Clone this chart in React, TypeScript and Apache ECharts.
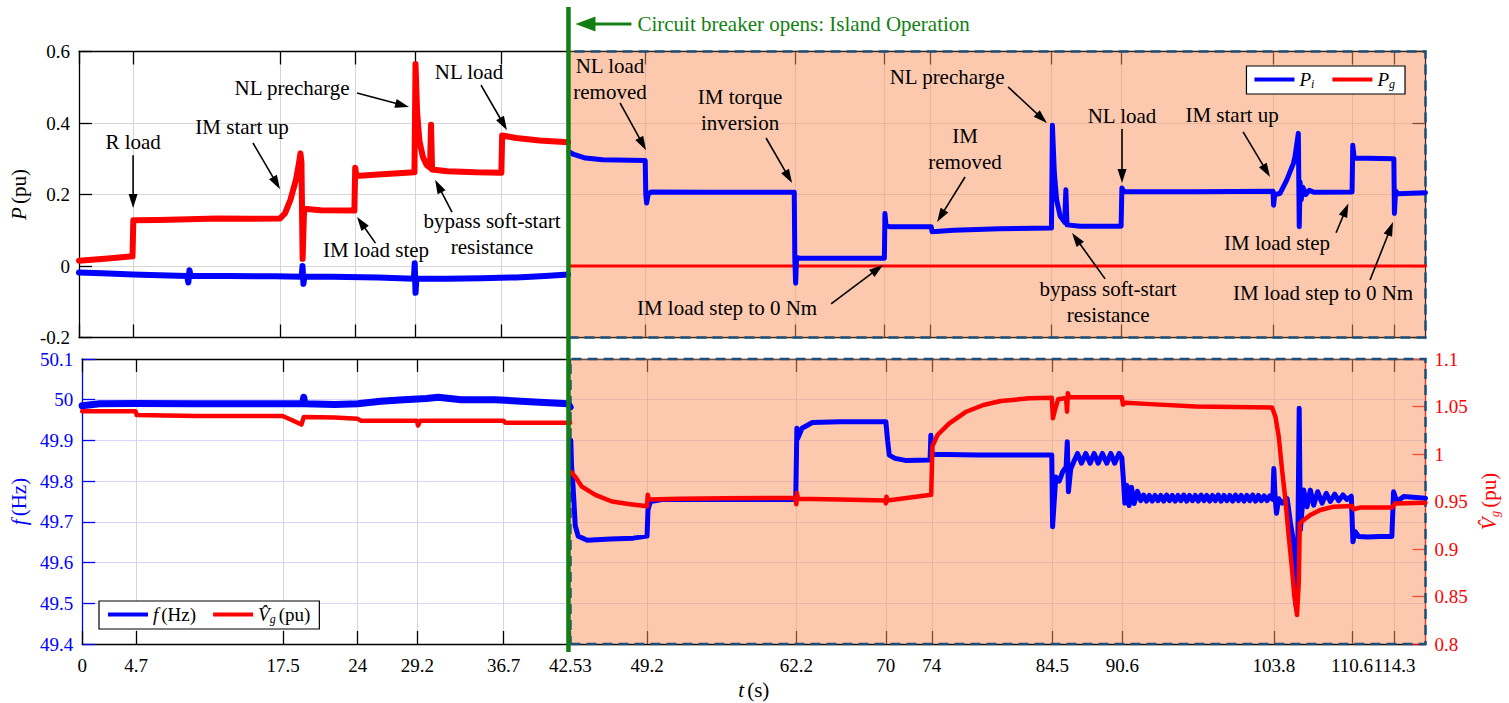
import React, { useEffect, useRef } from "react";
import * as echarts from "echarts";

// ---------------- data ----------------
const X_TICKS = [0, 4.7, 17.5, 24, 29.2, 36.7, 42.53, 49.2, 62.2, 70, 74, 84.5, 90.6, 103.8, 110.6, 114.3];
const T_MAX = 117;
const ISLAND_T = 42.53;

// inverter active power P_i (pu)
const P_I_GRID = [
  [0, -0.018], [2, -0.02], [4.7, -0.024], [7, -0.026], [9.4, -0.028], [9.5, -0.046], [9.6, -0.012], [9.7, -0.028],
  [13, -0.028], [17, -0.029], [19.35, -0.03], [19.42, 0.0], [19.5, -0.05], [19.58, -0.03], [22, -0.03], [26, -0.032],
  [29.1, -0.036], [29.17, 0.008], [29.24, -0.075], [29.32, -0.036], [32, -0.036], [35, -0.034], [38, -0.032],
  [40.5, -0.028], [42.5, -0.024],
];
const P_I_ISLAND = [
  [42.56, 0.32], [43, 0.312], [44, 0.302], [45.5, 0.297], [49.2, 0.295], [49.25, 0.2], [49.32, 0.176], [49.45, 0.2],
  [49.7, 0.207], [55, 0.206], [62.15, 0.206], [62.2, 0.02], [62.27, -0.048], [62.35, 0.024], [62.6, 0.022], [66, 0.022],
  [69.98, 0.022], [70.03, 0.147], [70.12, 0.115], [70.4, 0.11], [74.05, 0.11], [74.12, 0.096], [76, 0.1], [80, 0.104],
  [84.5, 0.106], [84.58, 0.394], [84.75, 0.26], [84.95, 0.185], [85.25, 0.14], [85.65, 0.122], [85.75, 0.213],
  [85.85, 0.115], [87, 0.111], [90.55, 0.111], [90.62, 0.218], [90.8, 0.208], [97, 0.208], [103.75, 0.209],
  [103.8, 0.17], [103.9, 0.2], [104.36, 0.203], [104.94, 0.24], [105.52, 0.287], [105.66, 0.306], [105.95, 0.371],
  [106.03, 0.11], [106.1, 0.235], [106.2, 0.185], [106.35, 0.22], [106.6, 0.2], [106.9, 0.212], [107.3, 0.206],
  [110.62, 0.207], [110.68, 0.338], [110.8, 0.302], [114.25, 0.3], [114.3, 0.147], [114.4, 0.21], [114.6, 0.202],
  [117, 0.205],
];

// grid active power P_g (pu)
const P_G_GRID = [
  [0, 0.015], [2.5, 0.021], [4.65, 0.027], [4.72, 0.128], [7, 0.129], [9.5, 0.131], [12, 0.133], [15, 0.132],
  [17.47, 0.133], [17.9, 0.147], [18.37, 0.185], [18.85, 0.241], [19.1, 0.285], [19.24, 0.315], [19.33, 0.29],
  [19.43, 0.02], [19.56, 0.16], [21, 0.156], [23.93, 0.155], [24.0, 0.275], [24.1, 0.252], [26, 0.256], [29.15, 0.262],
  [29.24, 0.565], [29.38, 0.43], [29.58, 0.35], [29.88, 0.305], [30.2, 0.283], [30.5, 0.275], [30.59, 0.395],
  [30.68, 0.27], [32, 0.265], [34.5, 0.262], [36.7, 0.261], [36.77, 0.365], [38, 0.358], [40, 0.351], [42.5, 0.346],
];
const P_G_ISLAND = [[42.56, 0.0], [60, 0.0], [90, 0.0], [117, 0.0]];

// frequency f (Hz)
const F_GRID = [
  [0, 49.985], [1.5, 49.99], [4.7, 49.991], [9.6, 49.99], [14, 49.99], [19.2, 49.99], [19.3, 50.006], [19.4, 49.99],
  [22, 49.988], [24, 49.99], [26, 49.996], [28, 50.0], [30, 50.003], [31, 50.006], [33, 50.0], [36, 50.0],
  [39, 49.995], [42.3, 49.99], [42.5, 49.982],
];
const F_ISLAND = [
  [42.56, 49.9], [42.62, 49.84], [42.75, 49.79], [42.95, 49.69], [43.2, 49.665], [44, 49.655], [46, 49.658],
  [48, 49.66], [49.2, 49.665], [49.28, 49.73], [49.5, 49.75], [50.5, 49.755], [56, 49.755], [62.15, 49.755],
  [62.25, 49.93], [62.32, 49.905], [62.7, 49.93], [63.6, 49.944], [66, 49.946], [70.0, 49.946], [70.15, 49.9],
  [70.3, 49.864], [70.8, 49.856], [71.7, 49.851], [73.85, 49.852], [73.92, 49.913], [74.02, 49.866], [78, 49.864],
  [84.45, 49.864], [84.52, 49.688], [84.8, 49.81], [85.1, 49.8], [85.4, 49.823], [85.7, 49.835], [85.8, 49.897],
  [85.9, 49.774], [86.1, 49.83], [86.4, 49.85], [86.69, 49.868], [87.04, 49.844], [87.41, 49.868], [87.79, 49.844],
  [88.14, 49.868], [88.49, 49.844], [88.86, 49.868], [89.24, 49.844], [89.59, 49.868], [89.93, 49.844],
  [90.31, 49.868], [90.55, 49.858], [90.69, 49.803], [90.81, 49.746], [90.98, 49.79], [91.18, 49.74], [91.39, 49.785],
  [91.62, 49.745], [91.91, 49.775], [92.2, 49.752], [92.45, 49.766], [92.7, 49.751], [92.95, 49.765], [93.2, 49.751],
  [93.45, 49.765], [93.7, 49.752], [93.95, 49.765], [94.2, 49.751], [94.45, 49.766], [94.7, 49.752], [94.95, 49.765],
  [95.2, 49.751], [95.45, 49.765], [95.7, 49.752], [95.95, 49.766], [96.2, 49.751], [96.45, 49.765], [96.7, 49.752],
  [96.95, 49.765], [97.2, 49.751], [97.45, 49.766], [97.7, 49.752], [97.95, 49.765], [98.2, 49.751], [98.45, 49.765],
  [98.7, 49.752], [98.95, 49.766], [99.2, 49.751], [99.45, 49.765], [99.7, 49.752], [99.95, 49.765], [100.2, 49.751],
  [100.45, 49.766], [100.7, 49.752], [100.95, 49.765], [101.2, 49.751], [101.45, 49.765], [101.7, 49.752],
  [101.95, 49.766], [102.2, 49.751], [102.45, 49.765], [102.7, 49.752], [102.95, 49.764], [103.2, 49.752],
  [103.45, 49.764], [103.7, 49.755], [103.79, 49.831], [103.9, 49.76], [104.02, 49.721], [104.22, 49.757],
  [104.51, 49.746], [104.95, 49.757], [105.24, 49.697], [105.52, 49.648], [105.72, 49.495], [105.87, 49.62],
  [106.0, 49.979], [106.1, 49.68], [106.39, 49.778], [106.68, 49.737], [106.97, 49.778], [107.26, 49.741],
  [107.61, 49.774], [107.99, 49.746], [108.36, 49.77], [108.71, 49.75], [109.09, 49.768], [109.44, 49.752],
  [109.81, 49.766], [110.16, 49.755], [110.54, 49.763], [110.68, 49.651], [110.88, 49.676], [111.17, 49.664],
  [112, 49.663], [113, 49.664], [114.07, 49.664], [114.22, 49.774], [114.5, 49.75], [115.1, 49.762], [117, 49.758],
];

// grid voltage magnitude V_g (pu)
const V_GRID = [
  [0, 1.045], [4.65, 1.045], [4.75, 1.041], [10, 1.04], [17.45, 1.04], [18.2, 1.036], [19.1, 1.031], [19.3, 1.039],
  [22, 1.0385], [24, 1.037], [24.3, 1.035], [29.15, 1.035], [29.25, 1.03], [29.45, 1.035], [36.7, 1.035],
  [36.85, 1.033], [42.5, 1.033],
];
const V_ISLAND = [
  [42.6, 0.981], [43.0, 0.975], [43.53, 0.9656], [44.69, 0.957], [46.14, 0.95], [47.59, 0.9474], [49.03, 0.9453],
  [49.2, 0.945], [49.26, 0.957], [49.35, 0.952], [52, 0.953], [56, 0.9535], [62.15, 0.954], [62.2, 0.947],
  [62.25, 0.959], [62.35, 0.953], [66, 0.952], [69.95, 0.951], [70.0, 0.948], [70.05, 0.955], [70.15, 0.951],
  [73.95, 0.957], [74.05, 1.008], [74.5, 1.02], [75.5, 1.032], [77, 1.0445], [78.5, 1.0516], [80, 1.0558],
  [82.5, 1.0586], [84.45, 1.0593], [84.55, 1.0376], [84.7, 1.045], [85.0, 1.0576], [85.7, 1.059], [85.78, 1.0445],
  [85.85, 1.064], [85.95, 1.0597], [90.55, 1.0597], [90.65, 1.052], [90.9, 1.054], [93, 1.0525], [97, 1.05],
  [103.64, 1.049], [103.93, 1.0393], [104.22, 1.018], [104.51, 0.983], [104.8, 0.9516], [105.09, 0.913],
  [105.38, 0.878], [105.58, 0.85], [105.81, 0.8305], [105.96, 0.864], [106.05, 0.927], [106.39, 0.9305],
  [106.97, 0.9358], [107.84, 0.941], [109.0, 0.9446], [110.6, 0.9453], [110.74, 0.9418], [111.3, 0.9436],
  [114.07, 0.9436], [114.36, 0.948], [117, 0.9486],
];

// annotations of the P panel, in data coordinates (t, P)
const NOTES = [
  { text: "R load", at: [4.7, 0.347], from: [4.7, 0.31], to: [4.7, 0.162] },
  { text: "IM start up", at: [14.16, 0.389], from: [15.12, 0.344], to: [17.47, 0.215] },
  { text: "NL precharge", at: [18.51, 0.498], from: [24.16, 0.484], to: [28.68, 0.445] },
  { text: "NL load", at: [33.89, 0.543], from: [34.93, 0.506], to: [37.19, 0.38] },
  { text: "IM load step", at: [25.81, 0.045], from: [25.76, 0.064], to: [24.16, 0.137] },
  { text: "bypass soft-start\nresistance", at: [35.89, 0.089], from: [32.41, 0.151], to: [30.94, 0.241] },
  { text: "NL load\nremoved", at: [46.14, 0.523], from: [47.01, 0.456], to: [49.27, 0.324] },
  { text: "IM torque\ninversion", at: [57.44, 0.436], from: [59.7, 0.358], to: [61.96, 0.232] },
  { text: "IM load step to 0 Nm", at: [56.31, -0.117], from: [65.35, -0.106], to: [69.86, 0.003] },
  { text: "NL precharge", at: [75.43, 0.529], from: [80.73, 0.501], to: [84.11, 0.4] },
  { text: "IM\nremoved", at: [76.99, 0.327], from: [76.99, 0.249], to: [74.56, 0.123] },
  { text: "NL load", at: [90.63, 0.42], from: [90.63, 0.383], to: [90.63, 0.232] },
  { text: "IM start up", at: [100.19, 0.422], from: [101.15, 0.375], to: [103.49, 0.249] },
  { text: "IM load step", at: [104.1, 0.064], from: [109.23, 0.093], to: [110.3, 0.175] },
  { text: "bypass soft-start\nresistance", at: [89.42, -0.101], from: [89.16, -0.036], to: [86.29, 0.092] },
  { text: "IM load step to 0 Nm", at: [108.1, -0.075], from: [112.18, -0.039], to: [114.18, 0.123] },
];

const ISLAND_LABEL = "Circuit breaker opens: Island Operation";

// ---------------- styling ----------------
const FONT = "Liberation Serif";
const BLUE = "#0000ff";
const RED = "#ff0000";
const GREEN = "#137f13";
const GRID_GREY = "#d6d6d6";

function richFor(color: string) {
  return {
    it: { fontFamily: FONT, fontStyle: "italic", fontSize: 21, color },
    rm: { fontFamily: FONT, fontSize: 21, color },
    sub: { fontFamily: FONT, fontStyle: "italic", fontSize: 13, color, padding: [10, 0, 0, 0] },
  };
}
function legendRich() {
  return {
    it: { fontFamily: FONT, fontStyle: "italic", fontSize: 19, color: "#000" },
    rm: { fontFamily: FONT, fontSize: 19, color: "#000" },
    sub: { fontFamily: FONT, fontStyle: "italic", fontSize: 12, color: "#000", padding: [9, 0, 0, 0] },
  };
}
function tickLabel(color: string, margin: number) {
  return {
    show: true,
    margin,
    formatter: (v: number) => "{n|" + String(v) + "}",
    rich: { n: { fontFamily: FONT, fontSize: 19, color } },
  };
}

function arrowEls(from: number[], to: number[], color: string, lw: number, headLen: number, headW: number) {
  const dx = to[0] - from[0];
  const dy = to[1] - from[1];
  const len = Math.hypot(dx, dy) || 1;
  const ux = dx / len;
  const uy = dy / len;
  const bx = to[0] - ux * headLen;
  const by = to[1] - uy * headLen;
  const nx = -uy;
  const ny = ux;
  return [
    {
      type: "line",
      silent: true,
      z: 60,
      shape: { x1: from[0], y1: from[1], x2: bx + ux * 2, y2: by + uy * 2 },
      style: { stroke: color, lineWidth: lw },
    },
    {
      type: "polygon",
      silent: true,
      z: 60,
      shape: {
        points: [
          [to[0], to[1]],
          [bx + (nx * headW) / 2, by + (ny * headW) / 2],
          [bx - (nx * headW) / 2, by - (ny * headW) / 2],
        ],
      },
      style: { fill: color },
    },
  ];
}

function richText(x: number, y: number, text: string, color: string, align: string) {
  return {
    type: "text",
    silent: true,
    z: 60,
    x,
    y,
    style: {
      text: "{a|" + text + "}",
      align,
      verticalAlign: "middle",
      fill: color,
      fontFamily: FONT,
      fontSize: 21,
      rich: { a: { fontFamily: FONT, fontSize: 21, fill: color } },
    },
  };
}

export default function App() {
  const ref = useRef<HTMLDivElement>(null);

  useEffect(() => {
    document.body.style.margin = "0";
    const el = ref.current;
    if (!el) return;
    const chart = echarts.init(el, null, { renderer: "svg" });

    const shade = {
      silent: true,
      label: { show: false },
      itemStyle: {
        color: "rgba(249,148,94,0.5)",
        borderColor: "#1f4e79",
        borderWidth: 2.5,
        borderType: [10, 6],
      },
      data: [[{ xAxis: ISLAND_T }, { xAxis: T_MAX }]],
    };

    const xBase = (gridIndex: number, position: string) => ({
      type: "value",
      gridIndex,
      position,
      min: 0,
      max: T_MAX,
      axisLine: { show: true, onZero: false, lineStyle: { color: "#000", width: 1.3 } },
      axisTick: { show: true, inside: true, length: 13, customValues: X_TICKS, lineStyle: { color: "#000", width: 1.3 } },
      axisLabel: { show: false, customValues: X_TICKS },
      splitLine: { show: false },
    });

    const yBase = (gridIndex: number, position: string, min: number, max: number, interval: number, color: string) => ({
      type: "value",
      gridIndex,
      position,
      min,
      max,
      interval,
      axisLine: { show: true, onZero: false, lineStyle: { color, width: 1.3 } },
      axisTick: { show: true, inside: true, length: 13, lineStyle: { color, width: 1.3 } },
      axisLabel: { show: false },
      splitLine: { show: false },
    });

    const line = (name: string, xi: number, yi: number, data: number[][], color: string, width: number, z: number, extra: any = {}) => ({
      name,
      type: "line",
      xAxisIndex: xi,
      yAxisIndex: yi,
      data,
      showSymbol: false,
      symbol: "none",
      silent: true,
      z,
      lineStyle: { color, width, join: "round", cap: "round" },
      itemStyle: { color },
      emphasis: { disabled: true },
      ...extra,
    });

    const option: any = {
      animation: false,
      backgroundColor: "#ffffff",
      grid: [
        { left: 79, right: 83.5, top: 51.5, height: 286, containLabel: false },
        { left: 79, right: 83.5, top: 359, height: 285, containLabel: false },
      ],
      xAxis: [
        { ...xBase(0, "bottom"), splitLine: { show: true, lineStyle: { color: GRID_GREY, width: 1 } } },
        xBase(0, "top"),
        {
          ...xBase(1, "bottom"),
          splitLine: { show: true, lineStyle: { color: GRID_GREY, width: 1 } },
          axisLabel: { ...tickLabel("#000", 12), customValues: X_TICKS },
          name: "{it|t} {rm|(s)}",
          nameLocation: "middle",
          nameGap: 35,
          nameTextStyle: { fontFamily: FONT, rich: richFor("#000") },
        },
        xBase(1, "top"),
      ],
      yAxis: [
        {
          ...yBase(0, "left", -0.2, 0.6, 0.2, "#000"),
          axisLabel: tickLabel("#000", 9),
          splitLine: { show: true, lineStyle: { color: GRID_GREY, width: 1 } },
          name: "{it|P} {rm|(pu)}",
          nameLocation: "middle",
          nameRotate: 90,
          nameGap: 48,
          nameTextStyle: { fontFamily: FONT, rich: richFor("#000") },
        },
        yBase(0, "right", -0.2, 0.6, 0.2, "#000"),
        {
          ...yBase(1, "left", 49.4, 50.1, 0.1, BLUE),
          axisLabel: tickLabel(BLUE, 9),
          splitLine: { show: true, lineStyle: { color: "rgba(70,70,255,0.22)", width: 1 } },
          name: "{it|f} {rm|(Hz)}",
          nameLocation: "middle",
          nameRotate: 90,
          nameGap: 48,
          nameTextStyle: { fontFamily: FONT, rich: richFor(BLUE) },
        },
        {
          ...yBase(1, "right", 0.8, 1.1, 0.05, RED),
          axisLabel: tickLabel(RED, 9),
          name: "{it|V\u0302}{sub|g} {rm|(pu)}",
          nameLocation: "middle",
          nameRotate: 90,
          nameGap: 52,
          nameTextStyle: { fontFamily: FONT, rich: richFor(RED) },
        },
      ],
      legend: [
        {
          data: ["P_i", "P_g"],
          right: 104,
          top: 66,
          orient: "horizontal",
          icon: "rect",
          itemWidth: 40,
          itemHeight: 4,
          itemGap: 18,
          padding: [4, 10, 4, 8],
          backgroundColor: "#ffffff",
          borderColor: "#000",
          borderWidth: 1.2,
          selectedMode: false,
          formatter: (n: string) => (n === "P_i" ? "{it|P}{sub|i}" : "{it|P}{sub|g}"),
          textStyle: { fontFamily: FONT, rich: legendRich() },
        },
        {
          data: ["f (Hz)", "V_g (pu)"],
          left: 99,
          top: 601,
          orient: "horizontal",
          icon: "rect",
          itemWidth: 40,
          itemHeight: 4,
          itemGap: 17,
          padding: [4, 9, 4, 9],
          backgroundColor: "#ffffff",
          borderColor: "#000",
          borderWidth: 1.2,
          selectedMode: false,
          formatter: (n: string) => (n === "f (Hz)" ? "{it|f} {rm|(Hz)}" : "{it|V\u0302}{sub|g} {rm|(pu)}"),
          textStyle: { fontFamily: FONT, rich: legendRich() },
        },
      ],
      series: [
        line("P_g", 0, 0, P_G_GRID, RED, 6, 3, { markArea: shade }),
        line("P_g", 0, 0, P_G_ISLAND, RED, 3, 3),
        line("P_i", 0, 0, P_I_GRID, BLUE, 6, 4),
        line("P_i", 0, 0, P_I_ISLAND, BLUE, 5, 4),
        line("f (Hz)", 2, 2, F_GRID, BLUE, 7, 3, { markArea: shade }),
        line("f (Hz)", 2, 2, F_ISLAND, BLUE, 5, 3),
        line("V_g (pu)", 2, 3, V_GRID, RED, 4.5, 4),
        line("V_g (pu)", 2, 3, V_ISLAND, RED, 4.5, 4),
      ],
    };

    chart.setOption(option);

    // annotations placed through the chart's own coordinate conversion
    const toPx = (p: number[]) => chart.convertToPixel({ xAxisIndex: 0, yAxisIndex: 0 }, p) as number[];
    const graphics: any[] = [];
    NOTES.forEach((n) => {
      const a = toPx(n.at);
      const lines = n.text.split("\n");
      lines.forEach((ln, i) => {
        graphics.push(richText(a[0], a[1] + (i - (lines.length - 1) / 2) * 26, ln, "#000", "center"));
      });
      graphics.push(...arrowEls(toPx(n.from), toPx(n.to), "#000", 1.6, 14, 9));
    });

    const gx = toPx([ISLAND_T, 0])[0];
    graphics.push({
      type: "line",
      silent: true,
      z: 70,
      shape: { x1: gx, y1: 7, x2: gx, y2: 652 },
      style: { stroke: GREEN, lineWidth: 4.5 },
    });
    graphics.push(...arrowEls([gx + 63, 24], [gx + 7, 24], GREEN, 3, 20, 15));
    graphics.push({ ...richText(gx + 69, 24, ISLAND_LABEL, GREEN, "left"), z: 70 });
    chart.setOption({ graphic: graphics });

    return () => {
      chart.dispose();
    };
  }, []);

  return <div ref={ref} style={{ width: 1509, height: 703 }} />;
}
